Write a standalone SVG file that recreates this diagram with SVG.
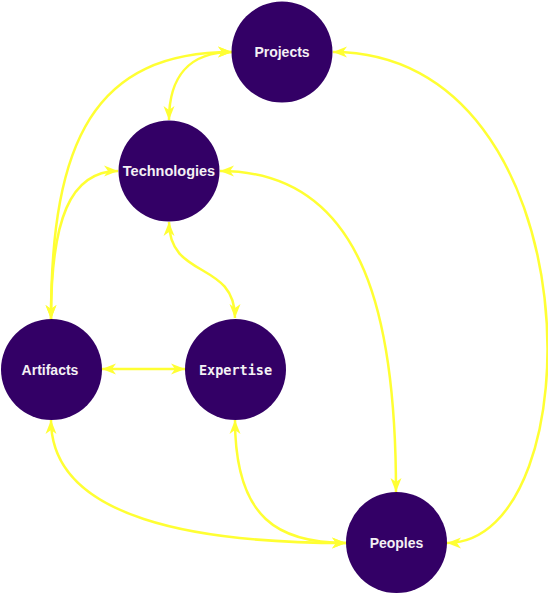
<svg xmlns="http://www.w3.org/2000/svg" width="548" height="593" viewBox="0 0 548 593">
<style>
.node circle{fill:#330066;}
.node text{fill:#f4f0f4;font-family:"Liberation Sans",Arial,sans-serif;font-weight:bold;font-size:14px;text-anchor:middle;}
.node text.mono{font-family:"DejaVu Sans Mono","Liberation Mono",monospace;font-size:13.5px;}
.edge{fill:none;stroke:#ffff33;stroke-width:2.5;marker-start:url(#arr);marker-end:url(#arr);}
</style>
<defs>
<marker id="arr" markerUnits="userSpaceOnUse" viewBox="-1 -7 17 14" refX="14" refY="0" markerWidth="17" markerHeight="14" orient="auto-start-reverse">
<path d="M0,-5.5 L14,0 L0,5.5 L4,0 Z" fill="#ffff33"/>
</marker>
</defs>
<g id="connectors">
<path class="edge" d="M232,52 C188,52 169,78 169,120"/>
<path class="edge" d="M232,52 C95,52 51,140 51,319"/>
<path class="edge" d="M118,171 C70,171 51,220 51,319"/>
<path class="edge" d="M169,222 C169,280 235,260 235,318"/>
<path class="edge" d="M220,171 C370,171 396,330 396,492"/>
<path class="edge" d="M333,52 C596,52 596,543 447,543"/>
<path class="edge" d="M102,369 L185,369"/>
<path class="edge" d="M51,420 C51,520 200,543 346,543"/>
<path class="edge" d="M235,420 C235,520 280,543 346,543"/>
</g>
<g id="projects" class="node"><circle cx="282" cy="52" r="50.5"/><text x="282" y="57">Projects</text></g>
<g id="technologies" class="node"><circle cx="169" cy="171" r="50.5"/><text x="169" y="176" style="font-size:14.5px">Technologies</text></g>
<g id="artifacts" class="node"><circle cx="51.5" cy="369.5" r="50.5"/><text x="50" y="375">Artifacts</text></g>
<g id="expertise" class="node"><circle cx="235.5" cy="369.5" r="50.5"/><text class="mono" x="235.5" y="375">Expertise</text></g>
<g id="peoples" class="node"><circle cx="396.5" cy="542.5" r="50.5"/><text x="396.5" y="548">Peoples</text></g>
</svg>
